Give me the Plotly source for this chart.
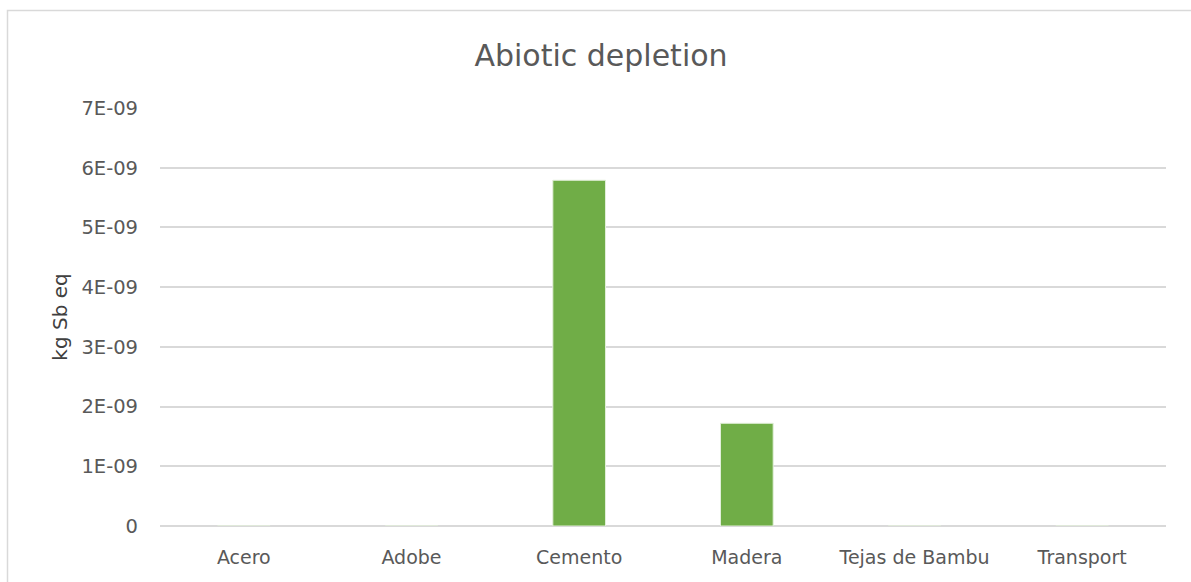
import plotly.graph_objects as go

# Abiotic depletion per building material (kg Sb eq)
categories = ["Acero", "Adobe", "Cemento", "Madera", "Tejas de Bambu", "Transport"]
values = [0, 0, 5.79e-09, 1.72e-09, 0, 0]
tick_vals = [0, 1e-09, 2e-09, 3e-09, 4e-09, 5e-09, 6e-09, 7e-09]
tick_text = ["0", "1E-09", "2E-09", "3E-09", "4E-09", "5E-09", "6E-09", "7E-09"]

W, H = 1191, 582
L, R, T, B = 160, 25, 108, 56
pw, ph = W - L - R, H - T - B
FONT = "DejaVu Sans"

fig = go.Figure(
    go.Bar(
        x=categories,
        y=values,
        marker=dict(color="#70AD47", line=dict(color="#E2EFDA", width=1)),
        width=0.314,
    )
)

fig.update_layout(
    width=W,
    height=H,
    margin=dict(l=L, r=R, t=T, b=B, pad=0),
    paper_bgcolor="white",
    plot_bgcolor="white",
    showlegend=False,
    font=dict(family=FONT, color="#595959"),
    title=dict(
        text="Abiotic depletion",
        x=(601 - L) / pw,
        xref="paper",
        xanchor="center",
        y=1 - 55 / H,
        yanchor="middle",
        font=dict(size=30, color="#595959", family=FONT),
    ),
    xaxis=dict(
        showgrid=False,
        showline=False,
        ticks="",
        tickfont=dict(size=19, color="#595959"),
        ticklabelstandoff=18,
    ),
    yaxis=dict(
        range=[0, 7e-09],
        tickvals=tick_vals,
        ticktext=tick_text,
        showgrid=True,
        gridcolor="#D9D9D9",
        gridwidth=2,
        zeroline=True,
        zerolinecolor="#D9D9D9",
        zerolinewidth=2,
        showline=False,
        ticks="",
        ticklabelstandoff=21,
        tickfont=dict(size=19.5, color="#595959"),
        title=dict(
            text="kg Sb eq",
            font=dict(size=20, color="#404040"),
            standoff=8,
        ),
    ),
    shapes=[
        dict(
            type="rect",
            xref="paper",
            yref="paper",
            x0=(7.5 - L) / pw,
            x1=1.2,
            y0=-0.5,
            y1=1 + (T - 10.5) / ph,
            line=dict(color="#D9D9D9", width=1.5),
            fillcolor="rgba(0,0,0,0)",
            layer="below",
        )
    ],
)

fig.write_html("out.html")
